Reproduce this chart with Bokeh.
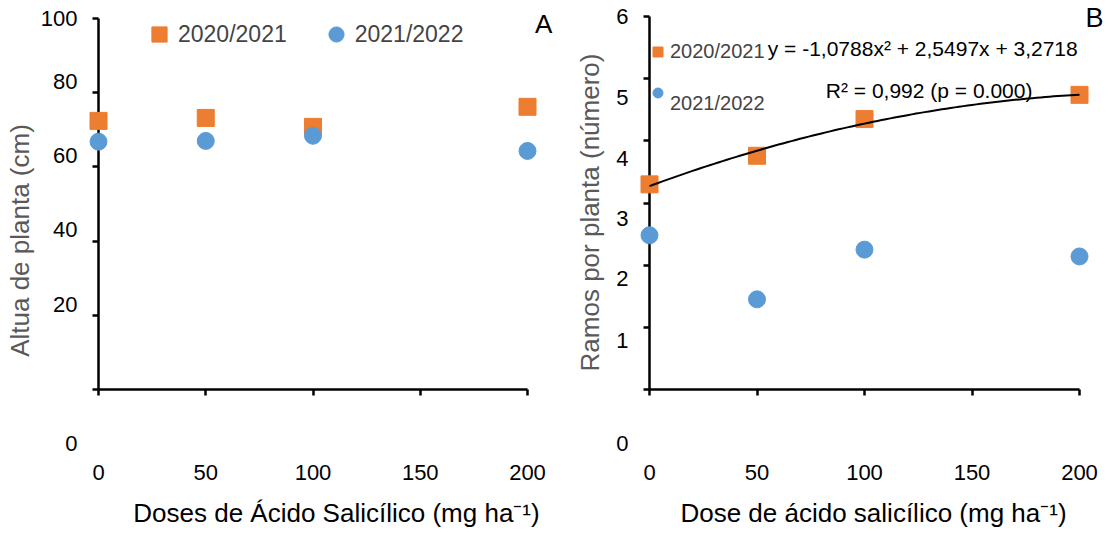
import numpy as np
from bokeh.plotting import figure
from bokeh.layouts import row
from bokeh.models import Range1d, LinearAxis, FixedTicker, Legend, LegendItem, Label
from bokeh.embed import file_html
from bokeh.resources import INLINE

# ---------------- data ----------------
doses = [0, 50, 100, 200]
altura_2020_2021 = [72.4, 73.2, 70.8, 76.2]
altura_2021_2022 = [66.8, 67.0, 68.4, 64.3]
ramos_2020_2021 = [3.30, 3.76, 4.35, 4.74]
ramos_2021_2022 = [2.48, 1.45, 2.25, 2.14]
series_labels = ["2020/2021", "2021/2022"]
x_ticks = [0, 50, 100, 150, 200]
a_ticks = [0, 20, 40, 60, 80, 100]
a_tick_labels = ["100", "80", "60", "40", "20"]
b_ticks = [0, 1, 2, 3, 4, 5, 6]
b_tick_labels = ["6", "5", "4", "3", "2", "1"]
# quadratic trend of 2020/2021 in panel B (x = dose / 200)
trend_coef = [-1.0788, 2.5497, 3.2718]
eq_text = "y = -1,0788x\u00b2 + 2,5497x + 3,2718"
r2_text = "R\u00b2 = 0,992 (p = 0.000)"

# ---------------- style / layout ----------------
ORANGE = "#ED7D31"
BLUE = "#5B9BD5"
FONT = "Liberation Sans"
GRAY = "#595959"
FIG_H = 532
# displaced tick-label positions (data units), as in the original figure
a_label_pos = [100, 83, 63, 43, 23]
b_label_pos = [6, 4.7, 3.71, 2.75, 1.78, 0.79]


def x_span(p_lo, p_hi, v_lo, v_hi, size):
    s = (v_hi - v_lo) / (p_hi - p_lo)
    start = v_lo - p_lo * s
    return start, start + size * s


def y_span(p_lo, p_hi, v_lo, v_hi, size):
    # p_lo: pixel (from top) of v_lo; p_hi: pixel of v_hi
    s = (v_hi - v_lo) / (p_lo - p_hi)
    return v_lo - (size - p_lo) * s, v_hi + p_hi * s


def base_axis_style(ax):
    ax.axis_line_width = 2.5
    ax.axis_line_color = "black"
    ax.major_tick_line_width = 2.5
    ax.major_tick_line_color = "black"
    ax.major_tick_in = 0
    ax.major_tick_out = 6
    ax.minor_tick_line_color = None
    ax.major_label_text_font = FONT
    ax.major_label_text_font_size = "22px"
    ax.major_label_text_color = "black"
    ax.axis_label_text_font = FONT
    ax.axis_label_text_font_style = "normal"
    ax.axis_label_text_font_size = "26px"


def make_panel(W, xpx, ypx, ymax, yticks, lab_pos, lab_txt, ytitle, ytitle_bounds, ytitle_standoff,
               xtitle, xtitle_bounds):
    x0, x1 = x_span(xpx[0], xpx[1], 0, 200, W)
    y0, y1 = y_span(ypx[0], ypx[1], 0, ymax, FIG_H)
    p = figure(width=W, height=FIG_H, x_range=Range1d(x0, x1), y_range=Range1d(y0, y1),
               output_backend="svg", toolbar_location=None, min_border=0,
               x_axis_type=None, y_axis_type=None)
    p.outline_line_color = None
    p.xgrid.visible = False
    p.ygrid.visible = False

    xa = LinearAxis(ticker=FixedTicker(ticks=x_ticks), fixed_location=0, bounds=(0, 200))
    base_axis_style(xa)
    xa.major_label_standoff = 69
    p.add_layout(xa, "below")

    xt = LinearAxis(ticker=FixedTicker(ticks=[]), fixed_location=0, bounds=xtitle_bounds)
    base_axis_style(xt)
    xt.axis_line_color = None
    xt.major_tick_line_color = None
    xt.major_tick_out = 0
    xt.axis_label = xtitle
    xt.axis_label_text_color = "black"
    xt.axis_label_standoff = 108
    p.add_layout(xt, "below")

    ya = LinearAxis(ticker=FixedTicker(ticks=yticks), fixed_location=0, bounds=(0, ymax))
    base_axis_style(ya)
    ya.major_label_overrides = {t: "" for t in yticks}
    ya.major_label_standoff = 0
    p.add_layout(ya, "left")

    lab = LinearAxis(ticker=FixedTicker(ticks=lab_pos), fixed_location=0, bounds=ytitle_bounds,
                     major_label_overrides={v: t for v, t in zip(lab_pos, lab_txt)})
    base_axis_style(lab)
    lab.axis_line_color = None
    lab.major_tick_line_color = None
    lab.major_tick_out = 0
    lab.major_label_standoff = 21
    lab.axis_label = ytitle
    lab.axis_label_text_color = GRAY
    lab.axis_label_standoff = ytitle_standoff
    p.add_layout(lab, "left")
    return p


def text_label(p, x, y, text, size, align="left"):
    p.add_layout(Label(x=x, y=y, text=text, text_align=align, text_baseline="middle",
                       text_font=FONT, text_font_size=size, text_color="black"))


# ---------------- panel A ----------------
W_A = 572
pA = make_panel(W_A, (98, 527), (389, 18), 100, a_ticks, a_label_pos, a_tick_labels,
                "Altua de planta (cm)", (-19.6, 100), 3,
                "Doses de \u00c1cido Salic\u00edlico (mg ha\u207b\u00b9)", (22, 200))
sqA = pA.scatter(doses, altura_2020_2021, marker="square", size=17, color=ORANGE, level="overlay")
ciA = pA.scatter(doses, altura_2021_2022, marker="circle", size=17, color=BLUE, level="overlay")
legA = Legend(items=[LegendItem(label=series_labels[0], renderers=[sqA]),
                     LegendItem(label=series_labels[1], renderers=[ciA])],
              orientation="horizontal", location=(140, FIG_H - 53), glyph_width=38, glyph_height=38,
              label_standoff=0, spacing=30, padding=0, margin=0, border_line_color=None,
              background_fill_alpha=0, label_text_font=FONT, label_text_font_size="23px")
pA.add_layout(legA)
text_label(pA, -9.8, -14.6, "0", "22px", "right")
text_label(pA, 207.5, 98.6, "A", "26px", "center")

# ---------------- panel B ----------------
W_B = 536
pB = make_panel(W_B, (77, 507), (389, 16), 6, b_ticks, b_label_pos, b_tick_labels,
                "Ramos por planta (n\u00famero)", (-0.306, 6), 8,
                "Dose de \u00e1cido salic\u00edlico (mg ha\u207b\u00b9)", (8.4, 200))
sqB = pB.scatter(doses, ramos_2020_2021, marker="square", size=17, color=ORANGE, level="overlay")
ciB = pB.scatter(doses, ramos_2021_2022, marker="circle", size=17, color=BLUE, level="overlay")
xs = np.linspace(0, 200, 101)
u = xs / 200.0
ys = trend_coef[0] * u ** 2 + trend_coef[1] * u + trend_coef[2]
pB.line(xs, ys, line_color="black", line_width=2, level="overlay")

legB1 = Legend(items=[LegendItem(label=series_labels[0], renderers=[sqB])],
               location=(73, FIG_H - 64), glyph_width=25, glyph_height=25, label_standoff=0,
               padding=0, margin=0, border_line_color=None, background_fill_alpha=0,
               label_text_font=FONT, label_text_font_size="20px")
legB2 = Legend(items=[LegendItem(label="\n" + series_labels[1], renderers=[ciB])],
               location=(73, FIG_H - 115), glyph_width=25, glyph_height=25,
               label_standoff=0, padding=0, margin=0, border_line_color=None,
               background_fill_alpha=0, label_text_font=FONT, label_text_font_size="20px")
pB.add_layout(legB1)
pB.add_layout(legB2)
text_label(pB, 55, 5.48, eq_text, "21px")
text_label(pB, 82, 4.81, r2_text, "21px")
text_label(pB, -9.8, -0.87, "0", "22px", "right")
text_label(pB, 207, 5.97, "B", "27px", "center")

layout = row(pA, pB)
open("out.html", "w").write(file_html(layout, INLINE))
